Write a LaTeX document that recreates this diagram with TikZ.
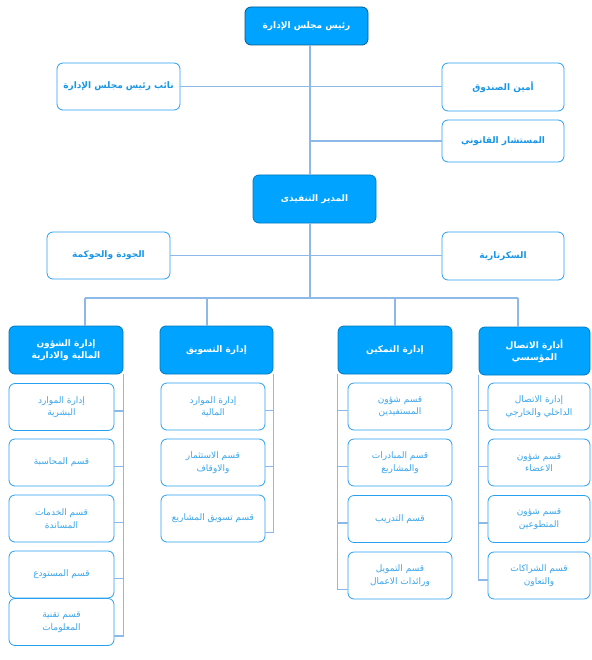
\documentclass[tikz,border=0pt]{standalone}
\usepackage{fontspec}
\newfontfamily\arabicfont[Script=Arabic]{DejaVu Sans}
\TeXXeTstate=1
\usepackage{xcolor}
\definecolor{headblue}{RGB}{0,163,255}
\definecolor{edgeblue}{RGB}{40,160,240}
\definecolor{textblue}{RGB}{25,150,230}
\definecolor{linkblue}{RGB}{140,185,232}
\newcommand{\artxt}[1]{{\arabicfont\beginR #1\endR}}

\tikzset{
  card/.style={draw=edgeblue, line width=0.8pt, rounded corners=6pt, fill=white,
    align=center, text=textblue, inner sep=2pt,
    font=\bfseries\fontsize{9}{11.5}\selectfont,
    minimum width=123pt, minimum height=47pt},
  headcard/.style={card, fill=headblue, draw=headblue!75!black, text=white, minimum height=48pt},
  subcard/.style={card, text=textblue!85, font=\fontsize{9}{12.5}\selectfont, minimum width=104pt},
  link/.style={draw=linkblue, line width=1.1pt}
}

\begin{document}
\begin{tikzpicture}[x=1pt,y=-1pt]
\useasboundingbox (0,0) rectangle (591,660);

% board level
\node[headcard, minimum height=38pt, draw=headblue!55!black] (chair) at (306.5,26) {\artxt{رئيس مجلس الإدارة}};
\node[card] (vice) at (118.5,86.5) {\artxt{نائب رئيس مجلس الإدارة}};
\node[card, minimum width=122pt, minimum height=48pt] (treas) at (503,87) {\artxt{أمين الصندوق}};
\node[card, minimum width=122pt, minimum height=42pt] (legal) at (503,141) {\artxt{المستشار القانوني}};

% executive level
\node[headcard] (ceo) at (314.5,199) {\artxt{المدير التنفيذى}};
\node[card] (quality) at (108.5,255.5) {\artxt{الجودة والحوكمة}};
\node[card, minimum width=122pt, minimum height=48pt] (secr) at (503,256) {\artxt{السكرتارية}};

% departments
\node[headcard, minimum width=114pt] (fin) at (66,350) {\artxt{إدارة الشؤون}\\\artxt{المالية والادارية}};
\node[headcard, minimum width=113pt] (mkt) at (216.5,350) {\artxt{إدارة التسويق}};
\node[headcard, minimum width=114pt] (emp) at (395,350) {\artxt{إدارة التمكين}};
\node[headcard, minimum width=111pt] (com) at (534.5,351) {\artxt{أدارة الاتصال}\\\artxt{المؤسسي}};

% sections
\node[subcard, minimum width=105pt] (fin1) at (61.5,407) {\artxt{إدارة الموارد}\\\artxt{البشرية}};
\node[subcard, minimum width=105pt] (fin2) at (61.5,462.5) {\artxt{قسم المحاسبة}};
\node[subcard, minimum width=105pt] (fin3) at (61.5,518.5) {\artxt{قسم الخدمات}\\\artxt{المساندة}};
\node[subcard, minimum width=105pt] (fin4) at (61.5,574.5) {\artxt{قسم المستودع}};
\node[subcard, minimum width=105pt] (fin5) at (61.5,622) {\artxt{قسم تقنية}\\\artxt{المعلومات}};

\node[subcard] (mkt1) at (213,406.5) {\artxt{إدارة الموارد}\\\artxt{المالية}};
\node[subcard] (mkt2) at (213,462.5) {\artxt{قسم الاستثمار}\\\artxt{والاوقاف}};
\node[subcard] (mkt3) at (213,518.5) {\artxt{قسم تسويق المشاريع}};

\node[subcard] (emp1) at (400,406.5) {\artxt{قسم شؤون}\\\artxt{المستفيدين}};
\node[subcard] (emp2) at (400,462.5) {\artxt{قسم المبادرات}\\\artxt{والمشاريع}};
\node[subcard] (emp3) at (400,519) {\artxt{قسم التدريب}};
\node[subcard] (emp4) at (400,575.5) {\artxt{قسم التمويل}\\\artxt{ورائدات الاعمال}};

\node[subcard, minimum width=102pt] (com1) at (539,406.5) {\artxt{إدارة الاتصال}\\\artxt{الداخلي والخارجي}};
\node[subcard, minimum width=102pt] (com2) at (539,462.5) {\artxt{قسم شؤون}\\\artxt{الاعضاء}};
\node[subcard, minimum width=102pt] (com3) at (539,519) {\artxt{قسم شؤون}\\\artxt{المتطوعين}};
\node[subcard, minimum width=102pt] (com4) at (539,575.5) {\artxt{قسم الشراكات}\\\artxt{والتعاون}};

% trunk and branches
\coordinate (spine) at (310,0);
\draw[link] (chair.south -| spine) -- (ceo.north -| spine);
\draw[link] (vice.east) -- (vice.east -| treas.west);
\draw[link] (legal.west) -- (legal.west -| spine);
\draw[link] (quality.east) -- (quality.east -| secr.west);

\coordinate (bus) at (310,298);
\coordinate (b1) at (85,298);
\coordinate (b2) at (207,298);
\coordinate (b3) at (395,298);
\coordinate (b4) at (518,298);
\draw[link] (ceo.south -| spine) -- (bus);
\draw[link] (b1) -- (b4);
\foreach \b/\d in {b1/fin,b2/mkt,b3/emp,b4/com}
  \draw[link] (\b) -- (\b |- \d.north);

% section rails
\draw[link] (fin.south east) |- ([yshift=-14pt]fin5.east);
\foreach \n in {fin1,fin2,fin3,fin4}
  \draw[link] ([yshift=-4pt]\n.east) -- ([yshift=-4pt]\n.east -| fin.south east);
\draw[link] (mkt.south east) |- ([yshift=-14pt]mkt3.east);
\foreach \n in {mkt1,mkt2}
  \draw[link] ([yshift=-4pt]\n.east) -- ([yshift=-4pt]\n.east -| mkt.south east);
\draw[link] (emp.south west) |- ([yshift=-14pt]emp4.west);
\foreach \n in {emp1,emp2,emp3}
  \draw[link] ([yshift=-4pt]\n.west) -- ([yshift=-4pt]\n.west -| emp.south west);
\draw[link] (com.south west) |- ([yshift=-4.5pt]com4.west);
\foreach \n in {com1,com2,com3}
  \draw[link] ([yshift=-4pt]\n.west) -- ([yshift=-4pt]\n.west -| com.south west);
\end{tikzpicture}
\end{document}
